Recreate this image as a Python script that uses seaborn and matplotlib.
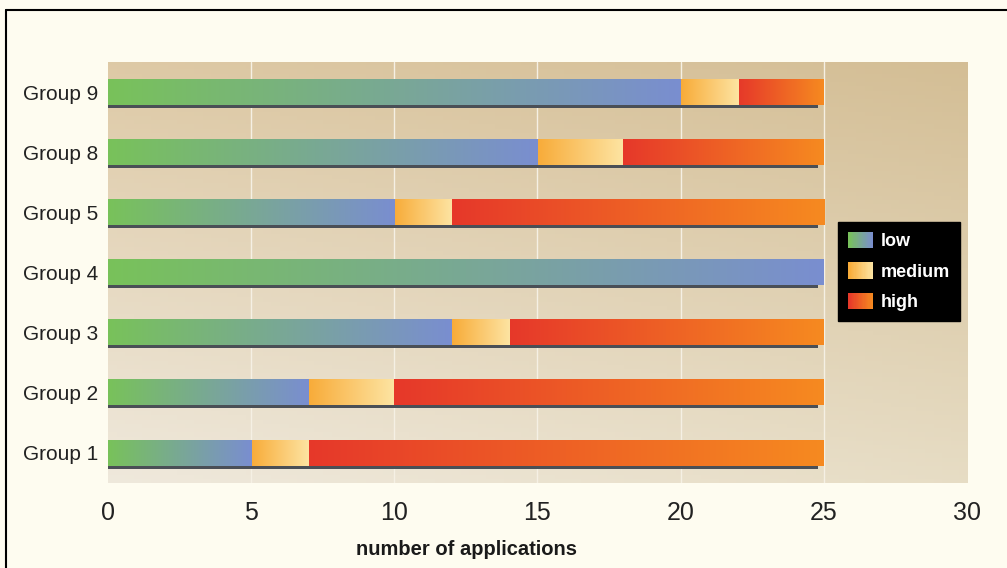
import numpy as np
import pandas as pd
import matplotlib.pyplot as plt
import seaborn as sns
from matplotlib.colors import LinearSegmentedColormap
from matplotlib.patches import Rectangle, Patch
from matplotlib.legend_handler import HandlerBase
from matplotlib.lines import Line2D

# data
groups = ["Group 9", "Group 8", "Group 5", "Group 4", "Group 3", "Group 2", "Group 1"]
low = [20, 15, 10, 25, 12, 7, 5]
medium = [2, 3, 2, 0, 2, 3, 2]
high = [3, 7, 13, 0, 11, 15, 18]
levels = ["low", "medium", "high"]
x_ticks = [0, 5, 10, 15, 20, 25, 30]

df = pd.DataFrame({"group": groups, "low": low, "medium": medium, "high": high})
df["low_end"] = df["low"]
df["medium_end"] = df["low"] + df["medium"]
df["high_end"] = df["medium_end"] + df["high"]

# gradient colours per level (left -> right)
cmaps = {
    "low": LinearSegmentedColormap.from_list("low", ["#78c25a", "#7a8ed0"]),
    "medium": LinearSegmentedColormap.from_list("medium", ["#f8ab38", "#fde4a2"]),
    "high": LinearSegmentedColormap.from_list("high", ["#e6382a", "#f68a20"]),
}

sns.set_style("white")
plt.rcParams["font.family"] = ["Liberation Sans", "DejaVu Sans"]

fig = plt.figure(figsize=(10.07, 5.68), dpi=100, facecolor="#fefcf0")
ax = fig.add_axes([0.1072, 0.1496, 0.8531, 0.7412])

# stacked bars drawn as overlapping cumulative bars
segments = {}
bar_w = 0.42
for lev in ["high", "medium", "low"]:
    n0 = len(ax.patches)
    sns.barplot(data=df, x=lev + "_end", y="group", order=groups, orient="h",
                width=bar_w, color="grey", ax=ax)
    segments[lev] = ax.patches[n0:]

# swap flat fills for gradient images
starts = {"low": [0] * len(groups), "medium": list(df["low_end"]), "high": list(df["medium_end"])}
grad = np.linspace(0, 1, 256).reshape(1, -1)
for lev, patches in segments.items():
    for i, p in enumerate(patches):
        p.set_visible(False)
        x0 = starts[lev][i]
        x1 = p.get_x() + p.get_width()
        if x1 - x0 <= 0:
            continue
        y0, h = p.get_y(), p.get_height()
        ax.imshow(grad, cmap=cmaps[lev], aspect="auto", extent=(x0, x1, y0 + h, y0),
                  zorder=3, interpolation="bilinear")

# dark shadow line under each bar
for p in segments["high"]:
    w = p.get_x() + p.get_width()
    ax.add_patch(Rectangle((0, p.get_y() + p.get_height()), w - 0.2, 0.05,
                           facecolor="#4a4f56", edgecolor="none", zorder=2.5))

# axes background gradient
corners = np.array([[[0.870, 0.790, 0.650], [0.830, 0.745, 0.585]],
                    [[0.937, 0.912, 0.862], [0.905, 0.865, 0.770]]])
ty = np.linspace(0, 1, 100)[:, None, None]
tx = np.linspace(0, 1, 100)[None, :, None]
top = corners[0, 0] * (1 - tx) + corners[0, 1] * tx
bot = corners[1, 0] * (1 - tx) + corners[1, 1] * tx
bg = top * (1 - ty) + bot * ty
ax.imshow(bg, extent=(0, 1, 0, 1), transform=ax.transAxes, aspect="auto", zorder=0)

for xv in x_ticks[1:-1]:
    ax.axvline(xv, color="#f5f0e4", lw=1.0, zorder=1)

ax.set_xlim(0, 30)
ax.set_ylim(len(groups) - 0.5, -0.5)
ax.set_xticks(x_ticks)
ax.tick_params(axis="x", length=0, pad=13, labelsize=18, colors="#222222")
ax.tick_params(axis="y", length=0, pad=7, labelsize=15, colors="#222222")
ax.set_ylabel("")
ax.set_xlabel("number of applications", fontsize=14.5, fontweight="bold", color="#1a1a1a", va="top")
ax.xaxis.set_label_coords(0.417, -0.135)
for s in ax.spines.values():
    s.set_visible(False)


class GradHandler(HandlerBase):
    def create_artists(self, legend, orig_handle, xdescent, ydescent, width, height, fontsize, trans):
        cm = cmaps[orig_handle.get_label()]
        n = 20
        arts = []
        for k in range(n):
            arts.append(Rectangle((-xdescent + width * k / n, -ydescent), width / n * 1.05, height,
                                  facecolor=cm(k / (n - 1)), edgecolor="none", transform=trans))
        return arts


handles = [Patch(label=lev) for lev in levels]
leg = ax.legend(handles=handles, handler_map={h: GradHandler() for h in handles},
                loc="upper left", bbox_to_anchor=(0.85, 0.62), frameon=True, fancybox=False,
                facecolor="black", edgecolor="black", framealpha=1,
                prop={"weight": "bold", "size": 13}, labelcolor="white",
                handlelength=1.4, handleheight=1.0, handletextpad=0.4,
                labelspacing=0.68, borderpad=0.55, borderaxespad=0)
leg.set_zorder(5)

# outer frame (top and left edges)
fig.add_artist(Line2D([6 / 1007, 1], [1 - 10 / 568] * 2, transform=fig.transFigure, color="black", lw=1.5))
fig.add_artist(Line2D([6 / 1007] * 2, [0, 1 - 10 / 568], transform=fig.transFigure, color="black", lw=1.5))

fig.savefig("out.png", dpi=100, facecolor=fig.get_facecolor())
